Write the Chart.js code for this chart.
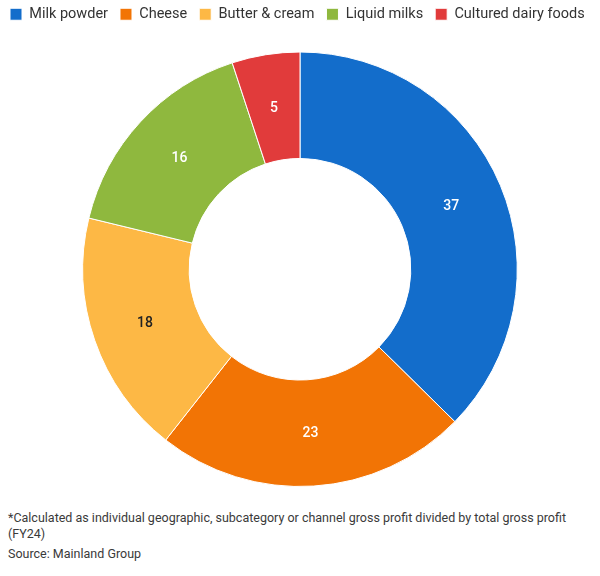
<!DOCTYPE html>
<html>
<head>
<meta charset="utf-8">
<script src="https://cdn.jsdelivr.net/npm/chart.js@4/dist/chart.umd.min.js"></script>
<style>
  html, body { margin: 0; padding: 0; background: #fff; }
  body { width: 600px; height: 576px; font-family: Roboto, "Open Sans", sans-serif; color: #333; }
  #wrap { position: relative; width: 600px; height: 496px; }
  .note { position: absolute; left: 8px; font-size: 12.5px; color: #3a3a3a; line-height: 16px; }
</style>
</head>
<body>
<div id="wrap"><canvas id="shareChart"></canvas></div>
<div class="note" style="top:510px; width:575px;">*Calculated as individual geographic, subcategory or channel gross profit divided by total gross profit (FY24)</div>
<div class="note" style="top:546px;">Source: Mainland Group</div>
<script>
  const categories = ['Milk powder', 'Cheese', 'Butter & cream', 'Liquid milks', 'Cultured dairy foods'];
  const shares = [37, 23, 18, 16, 5];
  const sliceColors = ['#136dcb', '#f27405', '#fdb845', '#8fb83e', '#e13b3b'];
  const labelColors = ['#fff', '#fff', '#222', '#fff', '#fff'];

  // draws the value in the middle of each slice
  const sliceLabels = {
    id: 'sliceLabels',
    afterDatasetsDraw(chart) {
      const ctx = chart.ctx;
      const meta = chart.getDatasetMeta(0);
      ctx.save();
      ctx.font = '500 14px Roboto, "Open Sans", sans-serif';
      ctx.textAlign = 'center';
      ctx.textBaseline = 'middle';
      meta.data.forEach((arc, i) => {
        const p = arc.tooltipPosition();
        ctx.fillStyle = labelColors[i];
        ctx.fillText(String(shares[i]), p.x, p.y + 1);
      });
      ctx.restore();
    }
  };

  // extra space under the legend so the ring starts lower
  const legendGap = {
    id: 'legendGap',
    beforeInit(chart) {
      const fit = chart.legend.fit;
      chart.legend.fit = function () {
        fit.bind(chart.legend)();
        this.height += 20;
      };
    }
  };

  const ctx = document.getElementById('shareChart').getContext('2d');
  new Chart(ctx, {
    type: 'doughnut',
    data: {
      labels: categories,
      datasets: [{
        data: shares,
        backgroundColor: sliceColors,
        borderColor: '#ffffff',
        borderWidth: 1
      }]
    },
    options: {
      responsive: true,
      maintainAspectRatio: false,
      animation: false,
      cutout: '51%',
      layout: { padding: { top: -5, bottom: 9, left: -2 } },
      plugins: {
        legend: {
          position: 'top',
          align: 'start',
          labels: {
            boxWidth: 12,
            boxHeight: 12,
            padding: 12,
            color: '#333',
            font: { size: 14.5, family: 'Roboto, "Open Sans", sans-serif' }
          }
        },
        tooltip: { enabled: false }
      }
    },
    plugins: [sliceLabels, legendGap]
  });
</script>
</body>
</html>
